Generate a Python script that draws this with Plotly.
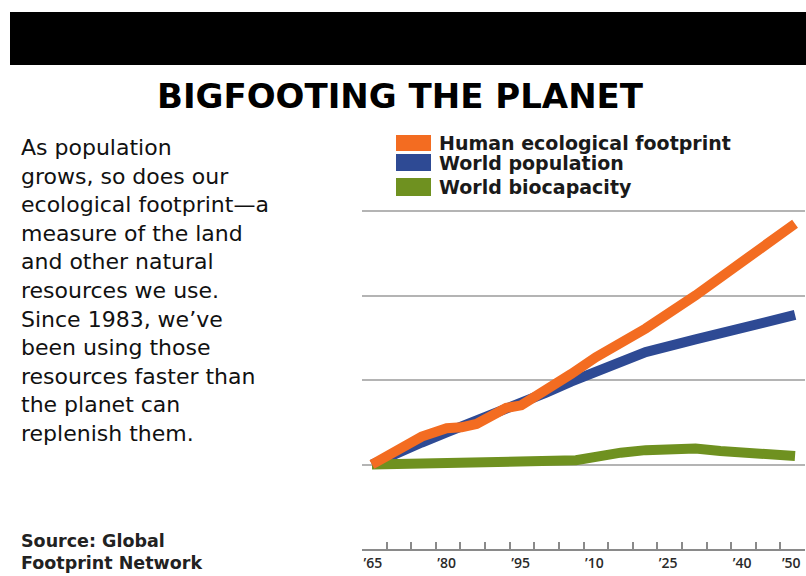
import plotly.graph_objects as go

# ---------------- data (index, 1965 = 1) ----------------
years_footprint = [1965, 1970, 1975, 1980, 1983, 1986, 1989, 1992, 1995, 2000, 2005, 2010, 2020, 2030, 2040, 2050]
footprint = [1.00, 1.18, 1.33, 1.43, 1.44, 1.48, 1.59, 1.67, 1.70, 1.87, 2.07, 2.27, 2.61, 3.00, 3.42, 3.85]

years_population = [1965, 1970, 1975, 1980, 1985, 1990, 1995, 2000, 2005, 2010, 2020, 2030, 2040, 2050]
population = [1.00, 1.14, 1.26, 1.38, 1.49, 1.61, 1.73, 1.85, 1.98, 2.10, 2.33, 2.48, 2.63, 2.77]

years_biocapacity = [1965, 1975, 1985, 1995, 2006, 2015, 2020, 2030, 2035, 2050]
biocapacity = [1.00, 1.015, 1.025, 1.035, 1.05, 1.14, 1.17, 1.19, 1.16, 1.10]

series_names = ["Human ecological footprint", "World population", "World biocapacity"]
series_colors = ["#F36C21", "#2E4A94", "#6F9120"]

tick_years = [1965, 1970, 1975, 1980, 1985, 1990, 1995, 2000, 2005, 2010,
              2015, 2020, 2025, 2030, 2035, 2040, 2045, 2050, 2055]
tick_labels = ["’65", "", "", "’80", "", "", "’95", "", "", "’10",
               "", "", "’25", "", "", "’40", "", "’50", ""]
grid_values = [1, 2, 3, 4]

title_text = "BIGFOOTING THE PLANET"
body_text = ("As population<br>grows, so does our<br>ecological footprint—a<br>"
             "measure of the land<br>and other natural<br>resources we use.<br>"
             "Since 1983, we’ve<br>been using those<br>resources faster than<br>"
             "the planet can<br>replenish them.")
source_lines = ["Source: Global", "Footprint Network"]

# ---------------- layout geometry (pixels) ----------------
WIDTH, HEIGHT = 806, 576
L, R, T, B = 362, 805, 209, 549
PW, PH = R - L, B - T
Y_TOP = 4 + 2 / 84.5   # a little headroom so the top gridline is drawn


def px(x):
    return (x - L) / PW


def py(y):
    return (B - y) / PH


fig = go.Figure()

# drawing order: population, biocapacity, footprint on top
order = [(years_population, population, 1),
         (years_biocapacity, biocapacity, 2),
         (years_footprint, footprint, 0)]
for xs, ys, i in order:
    fig.add_trace(go.Scatter(
        x=xs, y=ys, mode="lines", name=series_names[i],
        line=dict(color=series_colors[i], width=10),
        showlegend=False, hoverinfo="skip", xaxis="x", yaxis="y"))

# invisible trace so the tick axis is drawn
fig.add_trace(go.Scatter(x=[tick_years[0]], y=[0], mode="markers",
                         marker=dict(opacity=0), showlegend=False,
                         hoverinfo="skip", xaxis="x2", yaxis="y"))

shapes = []
# black header bar
shapes.append(dict(type="rect", xref="paper", yref="paper",
                   x0=px(10), x1=px(806), y0=py(65), y1=py(12),
                   fillcolor="black", line=dict(width=0), layer="above"))
# legend swatches
sw_y = [(135, 151), (154, 171), (178, 196)]
for i, (a, b) in enumerate(sw_y):
    shapes.append(dict(type="rect", xref="paper", yref="paper",
                       x0=px(396), x1=px(431), y0=py(b), y1=py(a),
                       fillcolor=series_colors[i], line=dict(width=0)))

annotations = []
annotations.append(dict(text=title_text, xref="paper", yref="paper",
                        x=px(400), y=py(96), xanchor="center", yanchor="middle",
                        showarrow=False,
                        font=dict(family="DejaVu Sans", size=34, color="black", weight="bold")))
legend_y = [143, 162.5, 187]
for i, name in enumerate(series_names):
    annotations.append(dict(text=name, xref="paper", yref="paper",
                            x=px(437), y=py(legend_y[i]), xanchor="left", yanchor="middle",
                            showarrow=False,
                            font=dict(family="DejaVu Sans", size=19, color="#1a1a1a", weight="bold")))
annotations.append(dict(text=body_text, xref="paper", yref="paper",
                        x=px(19), y=py(133), xanchor="left", yanchor="top", align="left",
                        showarrow=False,
                        font=dict(family="DejaVu Sans", size=22, color="#111111")))
src_y = [541, 563]
for i, s in enumerate(source_lines):
    annotations.append(dict(text=s, xref="paper", yref="paper",
                            x=px(19), y=py(src_y[i]), xanchor="left", yanchor="middle",
                            align="left", showarrow=False,
                            font=dict(family="DejaVu Sans", size=17.5, color="#222222", weight="bold")))

fig.update_layout(
    width=WIDTH, height=HEIGHT,
    margin=dict(l=L, r=WIDTH - R, t=T, b=HEIGHT - B, pad=0),
    paper_bgcolor="white", plot_bgcolor="white",
    showlegend=False,
    xaxis=dict(range=[1963, 2052], visible=False, fixedrange=True),
    xaxis2=dict(range=[1965, 2055], overlaying="x", anchor="y", side="bottom",
                tickmode="array", tickvals=tick_years, ticktext=tick_labels,
                ticks="inside", ticklen=7, tickwidth=1.5, tickcolor="#8a8a8a",
                showline=True, linecolor="#8a8a8a", linewidth=1.5,
                showgrid=False, zeroline=False, automargin=False,
                ticklabelposition="outside right",
                tickfont=dict(family="Open Sans", size=14, color="#2a2a2a", weight=600)),
    yaxis=dict(range=[0, Y_TOP], tickmode="array", tickvals=grid_values,
               showticklabels=False, ticks="", showgrid=True,
               gridcolor="#b4b4b4", gridwidth=2, zeroline=False,
               showline=False, automargin=False, fixedrange=True),
    shapes=shapes,
    annotations=annotations,
)

fig.write_html("out.html")
